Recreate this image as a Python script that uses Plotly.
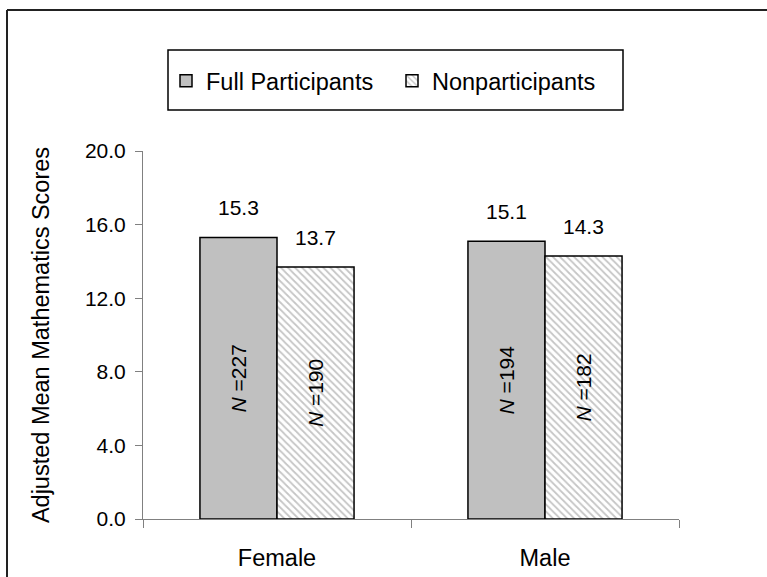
import plotly.graph_objects as go

# Adjusted mean mathematics scores by gender and participation group
genders = ["Female", "Male"]
full_scores = [15.3, 15.1]
non_scores = [13.7, 14.3]
full_n = [227, 194]
non_n = [190, 182]
y_ticks = [0, 4, 8, 12, 16, 20]

FONT = "Liberation Sans, Arial, sans-serif"

# plot-area geometry in pixels (for paper-coordinate conversions)
W, H = 767, 577
L, R, T, B = 143, 679, 151, 519


def px_x(px):
    return (px - L) / (R - L)


def px_y(py):
    return (B - py) / (B - T)


fig = go.Figure()

fig.add_trace(go.Bar(
    name="Full Participants",
    x=genders, y=full_scores,
    marker=dict(color="#c0c0c0", line=dict(color="black", width=1.5)),
    text=[f"<i>N</i> ={n}" for n in full_n],
    textposition="inside", insidetextanchor="middle", textangle=-90,
    textfont=dict(family=FONT, size=21, color="black"),
    hoverinfo="skip",
))
fig.add_trace(go.Bar(
    name="Nonparticipants",
    x=genders, y=non_scores,
    marker=dict(color="white", line=dict(color="black", width=1.5),
                pattern=dict(shape="\\", size=5, solidity=0.35,
                             fgcolor="#8c8c8c", bgcolor="white")),
    text=[f"<i>N</i> ={n}" for n in non_n],
    textposition="inside", insidetextanchor="middle", textangle=-90,
    textfont=dict(family=FONT, size=21, color="black"),
    hoverinfo="skip",
))

# value labels above each bar
annotations = []
for trace_vals, shift in ((full_scores, -38.5), (non_scores, 38.5)):
    for g, v in zip(genders, trace_vals):
        annotations.append(dict(
            x=g, y=v, xref="x", yref="y", xshift=shift, yshift=16,
            text=f"{v:.1f}", showarrow=False, yanchor="bottom",
            font=dict(family=FONT, size=21, color="black"),
        ))

# legend frame and outer chart border
shapes = [
    dict(type="rect", xref="paper", yref="paper",
         x0=px_x(168), x1=px_x(623), y0=px_y(110), y1=px_y(50),
         line=dict(color="black", width=1.5), fillcolor="rgba(0,0,0,0)"),
    dict(type="line", xref="paper", yref="paper",
         x0=px_x(7), x1=px_x(7), y0=px_y(600), y1=px_y(10),
         line=dict(color="#222222", width=2)),
    dict(type="line", xref="paper", yref="paper",
         x0=px_x(7), x1=px_x(790), y0=px_y(10), y1=px_y(10),
         line=dict(color="#222222", width=2)),
]

fig.update_layout(
    width=W, height=H,
    margin=dict(l=L, r=W - R, t=T, b=H - B, pad=0, autoexpand=False),
    paper_bgcolor="white", plot_bgcolor="white",
    font=dict(family=FONT, size=21, color="black"),
    barmode="group", bargap=0.425, bargroupgap=0,
    showlegend=True,
    legend=dict(orientation="h", x=px_x(166), y=px_y(81),
                xanchor="left", yanchor="middle",
                font=dict(family=FONT, size=23.5, color="black"),
                entrywidth=181, entrywidthmode="pixels",
                bgcolor="rgba(0,0,0,0)", borderwidth=0),
    annotations=annotations,
    shapes=shapes,
    xaxis=dict(
        automargin=False,
        showline=True, linecolor="#808080", linewidth=1,
        ticks="outside", tickson="boundaries", ticklen=8, tickcolor="#808080",
        showgrid=False, zeroline=False, ticklabelstandoff=18,
        tickfont=dict(family=FONT, size=23.5, color="black"),
    ),
    yaxis=dict(
        automargin=False,
        range=[0, 20], tickvals=y_ticks, tickformat=".1f",
        showline=True, linecolor="#808080", linewidth=1,
        ticks="outside", ticklen=7, tickcolor="#808080",
        showgrid=False, zeroline=False, ticklabelstandoff=5,
        tickfont=dict(family=FONT, size=21, color="black"),
        title=dict(text="Adjusted Mean Mathematics Scores",
                   font=dict(family=FONT, size=23.5, color="black"), standoff=28),
    ),
)

fig.write_html("out.html")
